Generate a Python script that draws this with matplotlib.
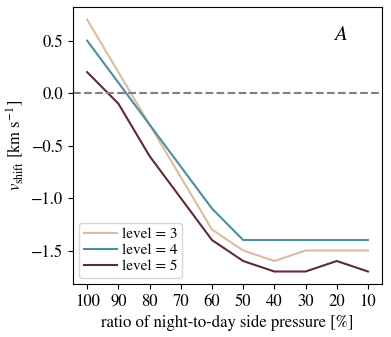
import matplotlib
matplotlib.use('Agg')
import matplotlib.pyplot as plt
import numpy as np

plt.rcParams['font.family'] = ['STIXGeneral', 'Liberation Serif', 'DejaVu Serif']
plt.rcParams['mathtext.fontset'] = 'stix'

# ratio of night-to-day side pressure [%]
ratio = [100, 90, 80, 70, 60, 50, 40, 30, 20, 10]
# velocity shift per refinement level [km/s]
shift_level3 = [0.7, 0.2, -0.3, -0.8, -1.3, -1.5, -1.6, -1.5, -1.5, -1.5]
shift_level4 = [0.5, 0.1, -0.3, -0.7, -1.1, -1.4, -1.4, -1.4, -1.4, -1.4]
shift_level5 = [0.2, -0.1, -0.6, -1.0, -1.4, -1.6, -1.7, -1.7, -1.6, -1.7]
labels = ['level = 3', 'level = 4', 'level = 5']
colors = ['#dcbc9e', '#4e8d9e', '#5e2b31']

fig = plt.figure(figsize=(3.91, 3.37), dpi=100)
ax = fig.add_axes([0.187, 0.157, 0.79, 0.822])

for ys, lab, c in zip([shift_level3, shift_level4, shift_level5], labels, colors):
    ax.plot(ratio, ys, color=c, lw=1.5, label=lab)

# zero line
ax.axhline(0, color='gray', ls='--', lw=1.5)
ax.invert_xaxis()
ax.set_xticks(ratio)
ax.set_yticks([0.5, 0.0, -0.5, -1.0, -1.5])
ax.tick_params(labelsize=12)

ax.set_xlabel('ratio of night-to-day side pressure [%]', fontsize=12)
ax.set_ylabel(r'$v_{\rm shift}$ [km s$^{-1}$]', fontsize=12)
ax.text(0.865, 0.9, r'$A$', transform=ax.transAxes, fontsize=15, ha='center', va='center')

ax.legend(loc='lower left', fontsize=11, handlelength=2.2, borderpad=0.3,
          labelspacing=0.15, handletextpad=0.3, borderaxespad=0.4)

fig.savefig('out.png', dpi=100)
